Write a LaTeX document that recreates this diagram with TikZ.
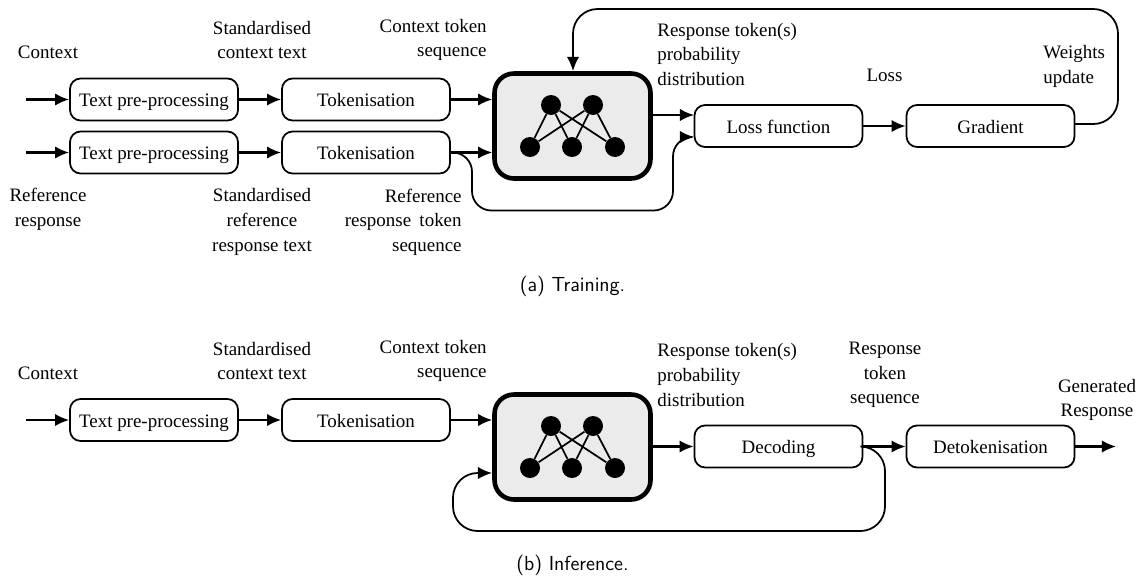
\documentclass[tikz,border=0pt]{standalone}
\usepackage{xcolor}
\usepackage{fontspec}
\setmainfont{Liberation Serif}
\usetikzlibrary{positioning,arrows.meta}

\tikzset{
  procbox/.style={draw, line width=1pt, rounded corners=6pt, minimum width=3.36cm, minimum height=0.84cm, inner sep=0pt, font=\fontsize{10.8}{14}\selectfont, text height=8pt, text depth=0pt},
  netbox/.style={draw, line width=2.6pt, rounded corners=11pt, fill=black!8, minimum width=3.12cm, minimum height=2.1cm},
  neuron/.style={circle, fill=black, minimum size=0.4cm, inner sep=0pt},
  edge/.style={line width=1pt},
  flow/.style={line width=1.2pt, -{Latex[length=8pt,width=7pt]}},
  loopflow/.style={flow, line width=1pt, rounded corners=11pt},
  note/.style={font=\fontsize{10.8}{14}\selectfont, inner sep=0pt, align=center},
  caption/.style={font=\sffamily\fontsize{11.6}{13}\selectfont, inner sep=0pt}
}

\begin{document}
\begin{tikzpicture}[x=0.02cm, y=-0.02cm]
\useasboundingbox (0,0) rectangle (1138,575);

% training
\node[note] (t_context) at (48,52) {Context};
\node[note] (t_std_context) at (262,40) {Standardised\\context text};
\node[note, anchor=east, align=right] (t_ctx_seq) at (487,40) {Context token\\sequence};
\node[note] (t_reference) at (48,209.5) {Reference\\response};
\node[note] (t_std_reference) at (262,222) {Standardised\\reference\\response text};
\node[note, anchor=east, align=right] (t_ref_seq) at (462,222) {Reference\\response\hspace{2pt} token\\sequence};
\node[note, anchor=west, align=left] (t_probs) at (657,54.5) {Response token(s)\\probability\\distribution};
\node[note] (t_loss) at (884.5,75) {Loss};
\node[note, anchor=west, align=left] (t_weights) at (1043,66.5) {Weights\\update};

\node[procbox] (t_prep_a) at (154,99.5) {Text pre-processing};
\node[procbox] (t_prep_b) at (154,152.5) {Text pre-processing};
\node[procbox] (t_token_a) at (366,99.5) {Tokenisation};
\node[procbox] (t_token_b) at (366,152.5) {Tokenisation};
\node[netbox] (t_net) at (572.5,126) {};
\node[procbox] (t_lossfn) at (778.5,126) {Loss function};
\node[procbox] (t_grad) at (990.5,126) {Gradient};

\node[neuron] (t_n1) at (551,105) {};
\node[neuron] (t_n2) at (593,105) {};
\node[neuron] (t_n3) at (530,147) {};
\node[neuron] (t_n4) at (572,147) {};
\node[neuron] (t_n5) at (615,147) {};
\draw[edge] (t_n1) -- (t_n3);
\draw[edge] (t_n1) -- (t_n4);
\draw[edge] (t_n1) -- (t_n5);
\draw[edge] (t_n2) -- (t_n3);
\draw[edge] (t_n2) -- (t_n4);
\draw[edge] (t_n2) -- (t_n5);

\coordinate (t_in_a) at (26,99.5);
\coordinate (t_in_b) at (26,152.5);
\coordinate (t_out) at (694,115);
\coordinate (t_ref) at (694,137);
\coordinate (t_back) at (1075,124);
\coordinate (t_top) at (573,71);

\draw[flow] (t_in_a) -- (t_prep_a);
\draw[flow] (t_in_b) -- (t_prep_b);
\draw[flow] (t_prep_a) -- (t_token_a);
\draw[flow] (t_prep_b) -- (t_token_b);
\draw[flow] (t_token_a.east) -- (t_net.west |- t_token_a.east);
\draw[flow] (t_token_b.east) -- (t_net.west |- t_token_b.east);
\draw[flow] (t_net.east |- t_out) -- (t_out);
\draw[flow] (t_lossfn) -- (t_grad);
\draw[loopflow] (t_token_b.east) -- (472,152.5) -- (472,210.5) -- (673,210.5) -- (673,137) -- (t_ref);
\draw[loopflow, rounded corners=14pt] (t_back) -- (1118,124) -- (1118,9) -- (573,9) -- (t_top);

\node[caption] (t_caption) at (572.5,286) {(a) Training.};

% inference
\node[note] (i_context) at (48,373) {Context};
\node[note] (i_std_context) at (262,361) {Standardised\\context text};
\node[note, anchor=east, align=right] (i_ctx_seq) at (487,361) {Context token\\sequence};
\node[note, anchor=west, align=left] (i_probs) at (657,375) {Response token(s)\\probability\\distribution};
\node[note] (i_resp_seq) at (885,375) {Response\\token\\sequence};
\node[note] (i_generated) at (1097,400) {Generated\\Response};

\node[procbox] (i_prep) at (154,420) {Text pre-processing};
\node[procbox] (i_token) at (366,420) {Tokenisation};
\node[netbox] (i_net) at (572.5,447) {};
\node[procbox] (i_decode) at (778.5,446.5) {Decoding};
\node[procbox] (i_detoken) at (990.5,446.5) {Detokenisation};

\node[neuron] (i_n1) at (551,426) {};
\node[neuron] (i_n2) at (593,426) {};
\node[neuron] (i_n3) at (530,468) {};
\node[neuron] (i_n4) at (572,468) {};
\node[neuron] (i_n5) at (615,468) {};
\draw[edge] (i_n1) -- (i_n3);
\draw[edge] (i_n1) -- (i_n4);
\draw[edge] (i_n1) -- (i_n5);
\draw[edge] (i_n2) -- (i_n3);
\draw[edge] (i_n2) -- (i_n4);
\draw[edge] (i_n2) -- (i_n5);

\coordinate (i_in) at (26,420);
\coordinate (i_out) at (1116,446.5);
\coordinate (i_back) at (492,473);

\draw[flow] (i_in) -- (i_prep);
\draw[flow] (i_prep) -- (i_token);
\draw[flow] (i_token.east) -- (i_net.west |- i_token.east);
\draw[flow] (i_net.east |- i_decode.west) -- (i_decode.west);
\draw[flow] (i_decode) -- (i_detoken);
\draw[flow] (i_detoken) -- (i_out);
\draw[loopflow, rounded corners=14pt] (i_decode.east) -- (885,446.5) -- (885,531) -- (453,531) -- (453,473) -- (i_back);

\node[caption] (i_caption) at (572.5,565) {(b) Inference.};
\end{tikzpicture}
\end{document}
